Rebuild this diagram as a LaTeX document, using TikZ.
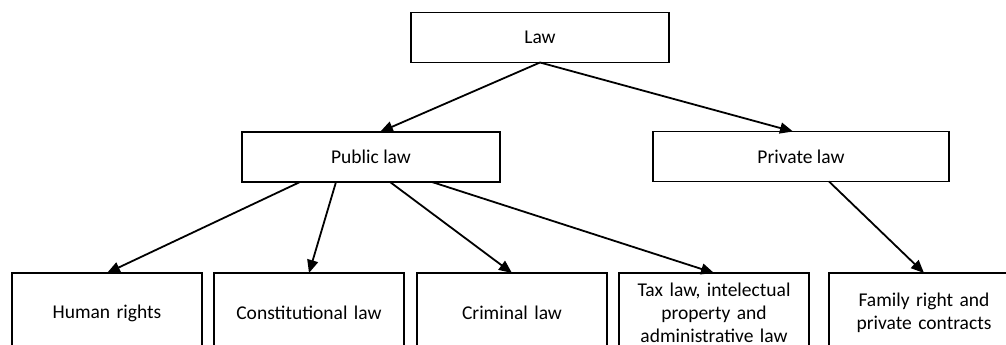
\documentclass[tikz,border=0pt]{standalone}
\usepackage{fontspec}
\setmainfont{Carlito}
\usetikzlibrary{positioning,arrows.meta}
\tikzset{
  lawbox/.style={draw, line width=1.8pt, minimum height=50pt, outer sep=0pt, inner sep=2pt},
  leafbox/.style={draw, line width=1.8pt, minimum width=190pt, minimum height=80pt, text width=184pt, align=center, outer sep=0pt, inner sep=0pt},
  lawarrow/.style={-{Triangle[length=13pt,width=11pt]}, line width=1.8pt}
}
\begin{document}
\begin{tikzpicture}[x=1pt,y=-1pt,font=\fontsize{19.5}{23}\selectfont]
            \useasboundingbox (0,0) rectangle (1006,345);
            \clip (0,0) rectangle (1006,345);
            \node[lawbox, minimum width=258pt] (law) at (540,37.5) {Law};
            \node[lawbox, minimum width=258pt] (pub) at (371,157) {Public law};
            \node[lawbox, minimum width=296pt] (priv) at (801,156.5) {Private law};
            \node[leafbox] (hum) at (107,313) {Human rights};
            \node[leafbox, right=12pt of hum] (con) {Constitutional law};
            \node[leafbox, right=13pt of con] (crim) {Criminal law};
            \node[leafbox, right=12pt of crim] (tax) {Tax law, intelectual\\property and\\administrative law};
            \node[leafbox, right=20pt of tax] (fam) {Family right and\\private contracts};
            \draw[lawarrow] (law.south) -- ([xshift=9pt]pub.north);
            \draw[lawarrow] (law.south) -- ([xshift=-8pt]priv.north);
            \draw[lawarrow] ([xshift=-71pt]pub.south) -- (hum.north);
            \draw[lawarrow] ([xshift=-35pt]pub.south) -- (con.north);
            \draw[lawarrow] ([xshift=19pt]pub.south) -- (crim.north);
            \draw[lawarrow] ([xshift=61pt]pub.south) -- (tax.north);
            \draw[lawarrow] ([xshift=28pt]priv.south) -- (fam.north);
\end{tikzpicture}
\end{document}
